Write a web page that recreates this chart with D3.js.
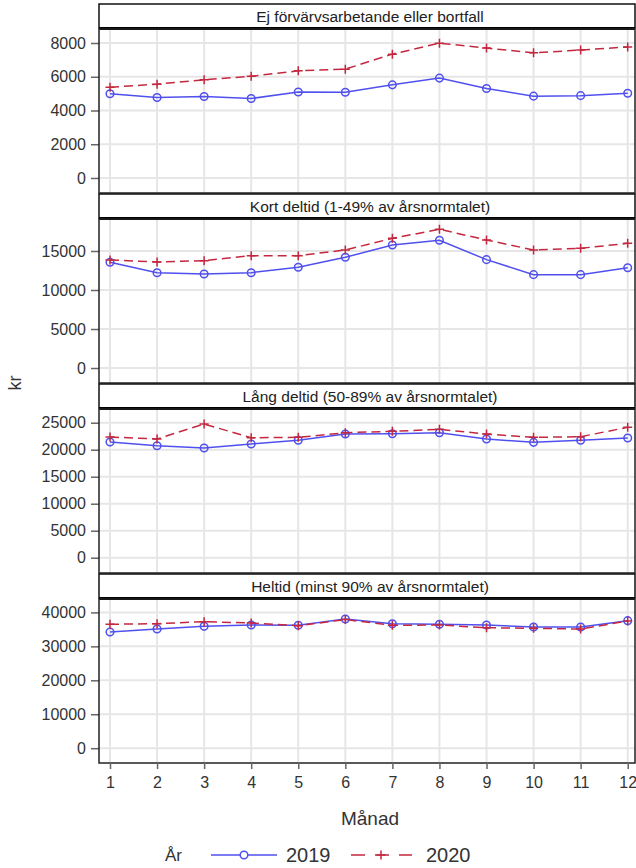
<!DOCTYPE html>
<html>
<head>
<meta charset="utf-8">
<script src="https://cdn.jsdelivr.net/npm/d3@7"></script>
<style>
  body { margin: 0; background: #fff; }
  text { font-family: "Liberation Sans", Arial, sans-serif; }
</style>
</head>
<body>
<div id="chart"></div>
<script>
// data
var months = [1, 2, 3, 4, 5, 6, 7, 8, 9, 10, 11, 12];
var panelTitles = [
  "Ej förvärvsarbetande eller bortfall",
  "Kort deltid (1-49% av årsnormtalet)",
  "Lång deltid (50-89% av årsnormtalet)",
  "Heltid (minst 90% av årsnormtalet)"
];
var ejForv2019 = [4990, 4770, 4830, 4710, 5100, 5080, 5520, 5920, 5300, 4850, 4880, 5020];
var ejForv2020 = [5380, 5560, 5820, 6030, 6350, 6450, 7340, 7990, 7700, 7420, 7580, 7770];
var kort2019 = [13550, 12220, 12050, 12220, 12910, 14190, 15770, 16370, 13890, 11970, 11970, 12860];
var kort2020 = [13850, 13590, 13760, 14400, 14400, 15130, 16620, 17780, 16410, 15130, 15340, 15980];
var lang2019 = [21430, 20740, 20310, 21060, 21740, 22910, 22960, 23150, 21980, 21360, 21740, 22170];
var lang2020 = [22350, 21980, 24760, 22220, 22290, 23150, 23400, 23770, 22910, 22290, 22410, 24150];
var heltid2019 = [34210, 35100, 35900, 36290, 36200, 38070, 36680, 36500, 36290, 35700, 35700, 37570];
var heltid2020 = [36500, 36680, 37270, 36880, 36080, 37900, 36200, 36290, 35490, 35310, 35100, 37480];
var yTicks = [
  [0, 2000, 4000, 6000, 8000],
  [0, 5000, 10000, 15000],
  [0, 5000, 10000, 15000, 20000, 25000],
  [0, 10000, 20000, 30000, 40000]
];
var yDomains = [
  [-890, 8830],
  [-1920, 19100],
  [-2830, 27540],
  [-4360, 43950]
];
var series2019 = [ejForv2019, kort2019, lang2019, heltid2019];
var series2020 = [ejForv2020, kort2020, lang2020, heltid2020];
var years = ["2019", "2020"];

var W = 636, H = 868;
var left = 99, right = 635;
var blue = "#5050ee", red = "#c4283f";

var svg = d3.select("#chart").append("svg")
  .attr("width", W).attr("height", H);

var x = d3.scaleLinear().domain([1, 12]).range([110, 627.7]);

var line = d3.line()
  .x(function(d, i) { return x(months[i]); });

function plusPath(cx, cy) {
  var s = 4.5;
  return "M" + (cx - s) + "," + cy + "H" + (cx + s) + "M" + cx + "," + (cy - s) + "V" + (cy + s);
}

panelTitles.forEach(function(title, p) {
  var top = 4 + p * 190;
  var y0 = top + 25;
  var y1 = top + 189;
  var g = svg.append("g");

  var ticks = yTicks[p];
  var y = d3.scaleLinear()
    .domain(yDomains[p])
    .range([y1, y0]);

  // grid
  g.selectAll(".vgrid").data(months).enter().append("line")
    .attr("x1", d => x(d)).attr("x2", d => x(d))
    .attr("y1", y0).attr("y2", y1)
    .attr("stroke", "#e6e6e6").attr("stroke-width", 2);
  g.selectAll(".hgrid").data(ticks).enter().append("line")
    .attr("x1", left).attr("x2", right)
    .attr("y1", d => y(d)).attr("y2", d => y(d))
    .attr("stroke", "#e6e6e6").attr("stroke-width", 2);

  // y axis
  var ax = g.append("g")
    .attr("transform", "translate(" + left + ",0)")
    .call(d3.axisLeft(y).tickValues(ticks).tickSize(8).tickPadding(5).tickFormat(d3.format("d")));
  ax.select(".domain").remove();
  ax.selectAll(".tick line").attr("stroke", "#666").attr("stroke-width", 1.5);
  ax.selectAll(".tick text").attr("fill", "#333").style("font-size", "16px")
    .style("font-family", "'Liberation Sans', Arial, sans-serif");

  // lines
  line.y(d => y(d));
  g.append("path").datum(series2019[p])
    .attr("d", line).attr("fill", "none")
    .attr("stroke", blue).attr("stroke-width", 1.5);
  g.append("path").datum(series2020[p])
    .attr("d", line).attr("fill", "none")
    .attr("stroke", red).attr("stroke-width", 1.5)
    .attr("stroke-dasharray", "9,5");

  g.selectAll(".m19").data(series2019[p]).enter().append("circle")
    .attr("cx", (d, i) => x(months[i])).attr("cy", d => y(d))
    .attr("r", 3.8).attr("fill", "none")
    .attr("stroke", blue).attr("stroke-width", 1.5);
  g.selectAll(".m20").data(series2020[p]).enter().append("path")
    .attr("d", (d, i) => plusPath(x(months[i]), y(d)))
    .attr("stroke", red).attr("stroke-width", 1.5);

  // header box
  g.append("rect")
    .attr("x", left).attr("y", top)
    .attr("width", right - left).attr("height", 24)
    .attr("fill", "#fff").attr("stroke", "#111").attr("stroke-width", 1.5);
  g.append("line")
    .attr("x1", left).attr("x2", right)
    .attr("y1", top + 24.5).attr("y2", top + 24.5)
    .attr("stroke", "#000").attr("stroke-width", 3);
  g.append("text")
    .attr("x", (left + right) / 2 + 3).attr("y", top + 17.5)
    .attr("text-anchor", "middle")
    .attr("fill", "#222")
    .style("font-size", "15.5px")
    .text(title);

  // plot frame
  g.append("rect")
    .attr("x", left).attr("y", y0)
    .attr("width", right - left).attr("height", y1 - y0)
    .attr("fill", "none").attr("stroke", "#222").attr("stroke-width", 1.5);
});

// x axis
var bottom = 762;
var xa = svg.append("g")
  .attr("transform", "translate(0," + bottom + ")")
  .call(d3.axisBottom(x).tickValues(months).tickSize(7).tickPadding(8).tickFormat(d3.format("d")));
xa.select(".domain").remove();
xa.selectAll(".tick line").attr("stroke", "#666").attr("stroke-width", 1.5);
xa.selectAll(".tick text").attr("fill", "#333").style("font-size", "16px")
  .style("font-family", "'Liberation Sans', Arial, sans-serif");

svg.append("text")
  .attr("x", 370).attr("y", 825)
  .attr("text-anchor", "middle").attr("fill", "#333")
  .style("font-size", "19px")
  .text("Månad");

svg.append("text")
  .attr("transform", "translate(21,383) rotate(-90)")
  .attr("text-anchor", "middle").attr("fill", "#333")
  .style("font-size", "18px")
  .text("kr");

// legend
var ly = 855;
var legend = svg.append("g");
legend.append("text")
  .attr("x", 165).attr("y", ly + 6)
  .attr("fill", "#333").style("font-size", "17px")
  .text("År");
legend.append("line")
  .attr("x1", 211).attr("x2", 277).attr("y1", ly).attr("y2", ly)
  .attr("stroke", blue).attr("stroke-width", 1.5);
legend.append("circle")
  .attr("cx", 244).attr("cy", ly).attr("r", 3.8)
  .attr("fill", "#fff").attr("stroke", blue).attr("stroke-width", 1.5);
legend.append("text")
  .attr("x", 286).attr("y", ly + 7)
  .attr("fill", "#333").style("font-size", "20px")
  .text(years[0]);
legend.append("line")
  .attr("x1", 351).attr("x2", 412).attr("y1", ly).attr("y2", ly)
  .attr("stroke", red).attr("stroke-width", 1.5)
  .attr("stroke-dasharray", "14,10");
legend.append("path")
  .attr("d", plusPath(381, ly))
  .attr("stroke", red).attr("stroke-width", 1.5);
legend.append("text")
  .attr("x", 426).attr("y", ly + 7)
  .attr("fill", "#333").style("font-size", "20px")
  .text(years[1]);
</script>
</body>
</html>
